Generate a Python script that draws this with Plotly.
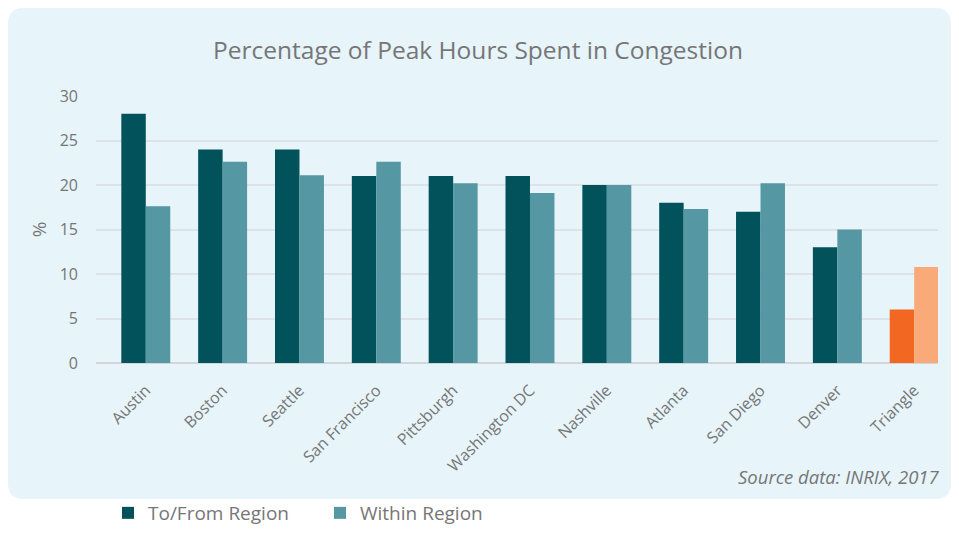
import plotly.graph_objects as go

# data
cities = ["Austin", "Boston", "Seattle", "San Francisco", "Pittsburgh",
          "Washington DC", "Nashville", "Atlanta", "San Diego", "Denver", "Triangle"]
to_from = [28, 24, 24, 21, 21, 21, 20, 18, 17, 13, 6]
within = [17.6, 22.6, 21.1, 22.6, 20.2, 19.1, 20.0, 17.3, 20.2, 15.0, 10.8]
y_ticks = [0, 5, 10, 15, 20, 25, 30]

DARK = "#02525B"
LIGHT = "#5597A3"
ORANGE = "#F26722"
ORANGE_LIGHT = "#F9AA78"
BG = "#E7F4FA"
GREY = "#767676"
FONT = "Open Sans"

# page body has an 8px margin, so the figure is 16px smaller than the window
W, H = 943, 518
L, R, T, B = 88, 13, 88, 163


def px_to_paper(x, y):
    # x, y in figure pixels (top-left origin) -> paper coords
    return (x - L) / (W - L - R), (H - B - y) / (H - T - B)


def rounded_rect(x0, y0, x1, y1, r):
    pts = [("M", x0 + r, y0), ("L", x1 - r, y0), ("Q", x1, y0, x1, y0 + r),
           ("L", x1, y1 - r), ("Q", x1, y1, x1 - r, y1), ("L", x0 + r, y1),
           ("Q", x0, y1, x0, y1 - r), ("L", x0, y0 + r), ("Q", x0, y0, x0 + r, y0)]
    out = []
    for p in pts:
        coords = []
        for i in range(1, len(p), 2):
            a, b = px_to_paper(p[i], p[i + 1])
            coords.append(f"{a:.5f},{b:.5f}")
        out.append(p[0] + " " + " ".join(coords))
    return " ".join(out) + " Z"


dark_colors = [DARK] * (len(cities) - 1) + [ORANGE]
light_colors = [LIGHT] * (len(cities) - 1) + [ORANGE_LIGHT]

fig = go.Figure()
fig.add_trace(go.Bar(x=cities, y=to_from, name="To/From Region",
                     marker=dict(color=dark_colors, line=dict(width=0))))
fig.add_trace(go.Bar(x=cities, y=within, name="Within Region",
                     marker=dict(color=light_colors, line=dict(width=0))))

fig.update_layout(
    width=W, height=H,
    margin=dict(l=L, r=R, t=T, b=B, pad=0),
    paper_bgcolor="white",
    plot_bgcolor="rgba(0,0,0,0)",
    font=dict(family=FONT, color=GREY),
    barmode="group",
    bargap=0.363,
    bargroupgap=0,
    title=dict(text="Percentage of Peak Hours Spent in Congestion",
               x=px_to_paper(470, 0)[0], xref="paper", xanchor="center",
               y=1 - 42 / H, yanchor="middle",
               font=dict(size=24.5, color=GREY, family=FONT)),
    xaxis=dict(range=[-0.648, 10.31], showgrid=False, ticks="",
               tickangle=-45, tickfont=dict(size=16, color=GREY),
               showline=False, zeroline=False, ticklabelstandoff=14,
               automargin=False),
    yaxis=dict(range=[0, 30], tickvals=y_ticks, showgrid=True,
               gridcolor="#DCE2E7", gridwidth=1.5,
               zeroline=True, zerolinecolor="#D3D6D9", zerolinewidth=2,
               tickfont=dict(size=16, color=GREY), ticklabelstandoff=17,
               automargin=False,
               title=dict(text="%", font=dict(size=19, color=GREY), standoff=8)),
    legend=dict(orientation="h", xref="container", yref="container",
                x=100 / W, xanchor="left",
                y=1 - 505 / H, yanchor="middle",
                font=dict(size=19, color=GREY), bgcolor="rgba(0,0,0,0)",
                entrywidth=167, entrywidthmode="pixels", itemclick=False),
    showlegend=True,
    shapes=[dict(type="path", xref="paper", yref="paper", layer="below",
                 path=rounded_rect(0, 0, 943, 491, 16),
                 fillcolor=BG, line=dict(width=0))],
    annotations=[dict(text="<i>Source data: INRIX, 2017</i>", showarrow=False,
                      xref="paper", yref="paper",
                      x=px_to_paper(934, 0)[0], xanchor="right",
                      y=px_to_paper(0, 468)[1], yanchor="middle",
                      font=dict(size=18.5, color=GREY, family=FONT))],
)

fig.write_html("out.html")
